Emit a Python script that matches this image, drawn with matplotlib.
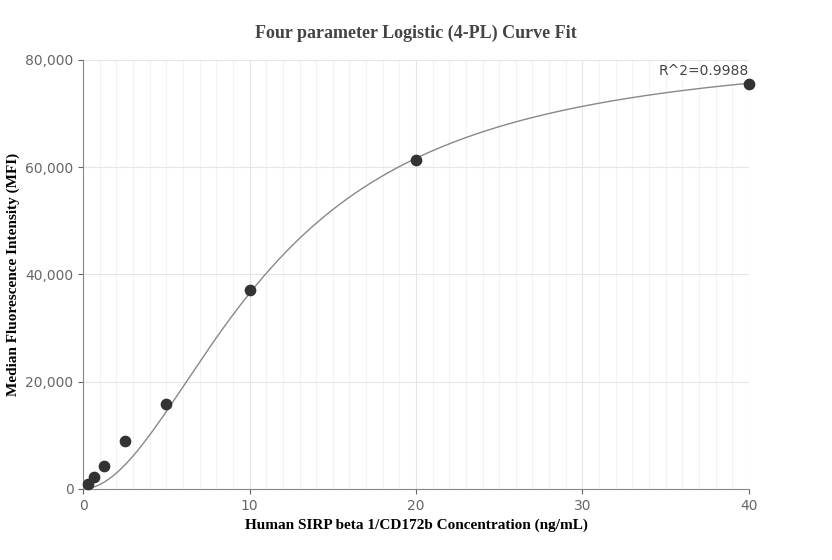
import numpy as np
import matplotlib
matplotlib.use("Agg")
import matplotlib.pyplot as plt
from matplotlib.ticker import FuncFormatter, MultipleLocator

conc = [0.3125, 0.625, 1.25, 2.5, 5, 10, 20, 40]
mfi = [1000, 2200, 4300, 9000, 15800, 37000, 61300, 75600]
fit_A, fit_B, fit_C, fit_D = 0.0, 1.9, 11.3, 82500.0
r2_label = "R^2=0.9988"

fig = plt.figure(figsize=(8.32, 5.6), dpi=100)
ax = fig.add_axes([0.1, 0.127, 0.8, 0.766])
xs = np.linspace(0.3125, 40, 400)
ys = fit_D + (fit_A - fit_D) / (1 + (xs / fit_C) ** fit_B)
ax.plot(xs, ys, color="#888888", lw=1)
ax.scatter(conc, mfi, s=55, color="#333333", zorder=3, clip_on=False)
ax.set_xlim(0, 40)
ax.set_ylim(0, 80000)
ax.xaxis.set_major_locator(MultipleLocator(10))
ax.xaxis.set_minor_locator(MultipleLocator(1))
ax.yaxis.set_major_locator(MultipleLocator(20000))
ax.yaxis.set_major_formatter(FuncFormatter(lambda v, p: f"{int(v):,}"))
ax.grid(which="major", color="#e6e6e6", lw=0.8)
ax.grid(which="minor", axis="x", color="#f3f3f3", lw=0.8)
for s in ["top", "right"]:
    ax.spines[s].set_visible(False)
for s in ["left", "bottom"]:
    ax.spines[s].set_color("#888888")
ax.tick_params(colors="#666666", labelsize=10, which="both")
ax.tick_params(which="minor", length=0)
ax.set_title("Four parameter Logistic (4-PL) Curve Fit", fontfamily="Liberation Serif",
             fontweight="bold", fontsize=13, color="#444444", pad=16)
ax.set_xlabel("Human SIRP beta 1/CD172b Concentration (ng/mL)", fontfamily="Liberation Serif",
              fontweight="bold", fontsize=11)
ax.set_ylabel("Median Fluorescence Intensity (MFI)", fontfamily="Liberation Serif",
              fontweight="bold", fontsize=11)
ax.annotate(r2_label, (conc[-1], mfi[-1]), xytext=(0, 4), textcoords="offset points",
            ha="right", va="bottom", fontsize=10, color="#444444")
fig.savefig("out.png")
